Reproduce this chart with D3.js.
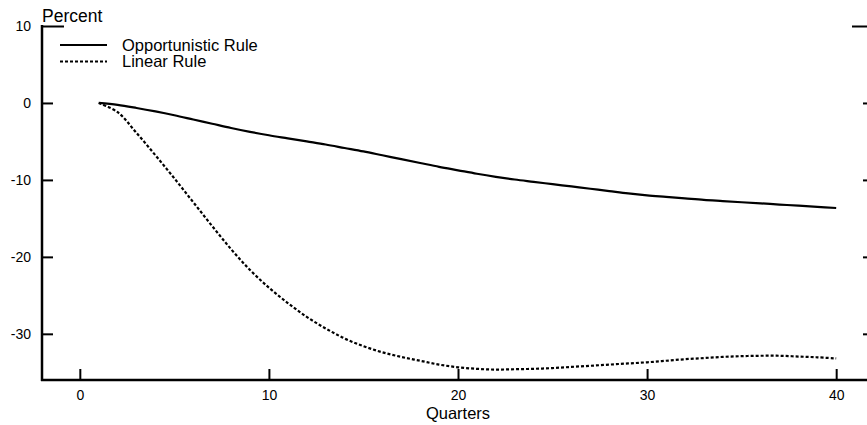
<!DOCTYPE html>
<html>
<head>
<meta charset="utf-8">
<script src="https://cdn.jsdelivr.net/npm/d3@7"></script>
<style>
  html, body { margin: 0; padding: 0; background: #fff; }
  svg { display: block; font-family: "Liberation Sans", Arial, sans-serif; }
</style>
</head>
<body>
<svg id="chart" width="867" height="425"></svg>
<script>
// ---- data ----
const quarters = d3.range(1, 41);
const opportunistic = [
  0, -0.25, -0.65, -1.1, -1.6, -2.15, -2.7, -3.25, -3.75, -4.2,
  -4.6, -5.0, -5.4, -5.85, -6.3, -6.8, -7.3, -7.8, -8.3, -8.75,
  -9.2, -9.6, -9.95, -10.25, -10.55, -10.85, -11.15, -11.45, -11.75, -12.0,
  -12.2, -12.4, -12.6, -12.75, -12.9, -13.05, -13.2, -13.35, -13.5, -13.65
];
const linear = [
  0, -1.2, -3.9, -6.8, -9.8, -12.9, -16.0, -19.0, -21.7, -24.0,
  -26.0, -27.8, -29.3, -30.6, -31.6, -32.4, -33.0, -33.5, -34.0, -34.35,
  -34.55, -34.65, -34.6, -34.55, -34.45, -34.3, -34.15, -34.0, -33.85, -33.7,
  -33.5, -33.3, -33.15, -33.0, -32.9, -32.85, -32.85, -32.95, -33.05, -33.2
];
const xTicks = [0, 10, 20, 30, 40];
const yTicks = [10, 0, -10, -20, -30];
const seriesNames = ["Opportunistic Rule", "Linear Rule"];

// ---- scales ----
const svg = d3.select("#chart");
const x = d3.scaleLinear().domain([-2, 42]).range([42, 874]);
const y = d3.scaleLinear().domain([-36, 10]).range([380, 26]);

const axisW = 2;
const fmt = d => String(d);

// left axis (ticks inward)
const gL = svg.append("g").attr("transform", `translate(${x(-2)},0)`)
  .call(d3.axisLeft(y).tickValues(yTicks).tickFormat(fmt).tickSizeInner(-11).tickSizeOuter(0).tickPadding(11));
gL.select(".domain").remove();
gL.selectAll(".tick line").attr("stroke", "#000").attr("stroke-width", axisW)
  .attr("x2", d => d === 10 ? 22 : 11);
gL.selectAll(".tick text").attr("font-size", 14).attr("fill", "#000");

// right axis ticks (inward, axis line off-frame)
const gR = svg.append("g").attr("transform", `translate(${x(42)},0)`)
  .call(d3.axisLeft(y).tickValues(yTicks).tickSizeInner(11).tickSizeOuter(0).tickFormat(""));
gR.select(".domain").remove();
gR.selectAll(".tick line").attr("stroke", "#000").attr("stroke-width", axisW)
  .attr("x2", d => d === 10 ? -22 : -11);

// bottom axis (ticks inward)
const gB = svg.append("g").attr("transform", `translate(0,${y(-36)})`)
  .call(d3.axisBottom(x).tickValues(xTicks).tickFormat(fmt).tickSizeInner(-11).tickSizeOuter(0).tickPadding(10));
gB.select(".domain").remove();
gB.selectAll(".tick line").attr("stroke", "#000").attr("stroke-width", axisW);
gB.selectAll(".tick text").attr("font-size", 14).attr("fill", "#000");

// axis lines
svg.append("line").attr("x1", x(-2)).attr("x2", x(-2)).attr("y1", y(10) - 1).attr("y2", y(-36) + 1)
  .attr("stroke", "#000").attr("stroke-width", axisW + 0.5);
svg.append("line").attr("x1", x(-2) - 1).attr("x2", x(42)).attr("y1", y(-36)).attr("y2", y(-36))
  .attr("stroke", "#000").attr("stroke-width", axisW + 0.5);

// titles
svg.append("text").attr("x", x(-2)).attr("y", 21.5).attr("font-size", 17.5).text("Percent");
svg.append("text").attr("x", x(20)).attr("y", 418.5).attr("text-anchor", "middle")
  .attr("font-size", 16.5).text("Quarters");

// lines
const line = d3.line().x((d, i) => x(quarters[i])).y(d => y(d)).curve(d3.curveCatmullRom.alpha(0.5));
svg.append("path").datum(opportunistic).attr("d", line)
  .attr("fill", "none").attr("stroke", "#000").attr("stroke-width", 2.2);
svg.append("path").datum(linear).attr("d", line)
  .attr("fill", "none").attr("stroke", "#000").attr("stroke-width", 2.2)
  .attr("stroke-dasharray", "3,2");

// legend
const leg = svg.append("g");
const dashes = [null, "3,2"];
seriesNames.forEach((name, i) => {
  const ly = 45 + i * 16.5;
  leg.append("line").attr("x1", 60).attr("x2", 107).attr("y1", ly).attr("y2", ly)
    .attr("stroke", "#000").attr("stroke-width", 2).attr("stroke-dasharray", dashes[i]);
  leg.append("text").attr("x", 122).attr("y", ly + 5.5).attr("font-size", 16.5).text(name);
});
</script>
</body>
</html>
